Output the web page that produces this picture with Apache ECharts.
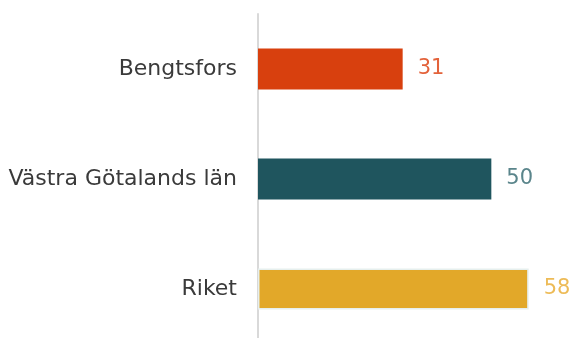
<!DOCTYPE html>
<html>
<head>
<meta charset="utf-8">
<script src="https://cdn.jsdelivr.net/npm/echarts@6/dist/echarts.min.js"></script>
<style>
  html, body { margin: 0; padding: 0; background: #fff; }
  #chart { width: 574px; height: 338px; }
</style>
</head>
<body>
<div id="chart"></div>
<script>
// data
const categories = ["Bengtsfors", "Västra Götalands län", "Riket"];
const values = [31, 50, 58];
const barColors = ["#D8400E", "#1F555E", "#E2A829"];
const labelColors = ["#E3623A", "#5A858B", "#EDBB57"];

const chart = echarts.init(document.getElementById("chart"));

const option = {
  animation: false,
  grid: {
    left: 258,
    top: 14,
    width: 280,
    height: 330,
    outerBoundsMode: "none",
    containLabel: false
  },
  xAxis: {
    type: "value",
    min: 0,
    max: 60,
    show: false
  },
  yAxis: {
    type: "category",
    inverse: true,
    data: categories,
    axisLine: { show: true, lineStyle: { color: "#D9D9D9", width: 2 } },
    axisTick: { show: false },
    axisLabel: {
      margin: 21,
      color: "#3A3A3A",
      fontFamily: "DejaVu Sans",
      fontSize: 22,
      padding: [5, 0, 0, 0]
    }
  },
  series: [{
    type: "bar",
    barWidth: 41,
    data: values.map((v, i) => ({
      value: v,
      itemStyle: {
        color: barColors[i],
        borderColor: i === 2 ? "#E6EFEE" : barColors[i],
        borderWidth: i === 2 ? 1.5 : 0
      },
      label: { color: labelColors[i] }
    })),
    label: {
      show: true,
      position: "right",
      distance: 15,
      fontFamily: "DejaVu Sans",
      fontSize: 21,
      padding: [6, 0, 0, 0]
    }
  }]
};

chart.setOption(option);
</script>
</body>
</html>
